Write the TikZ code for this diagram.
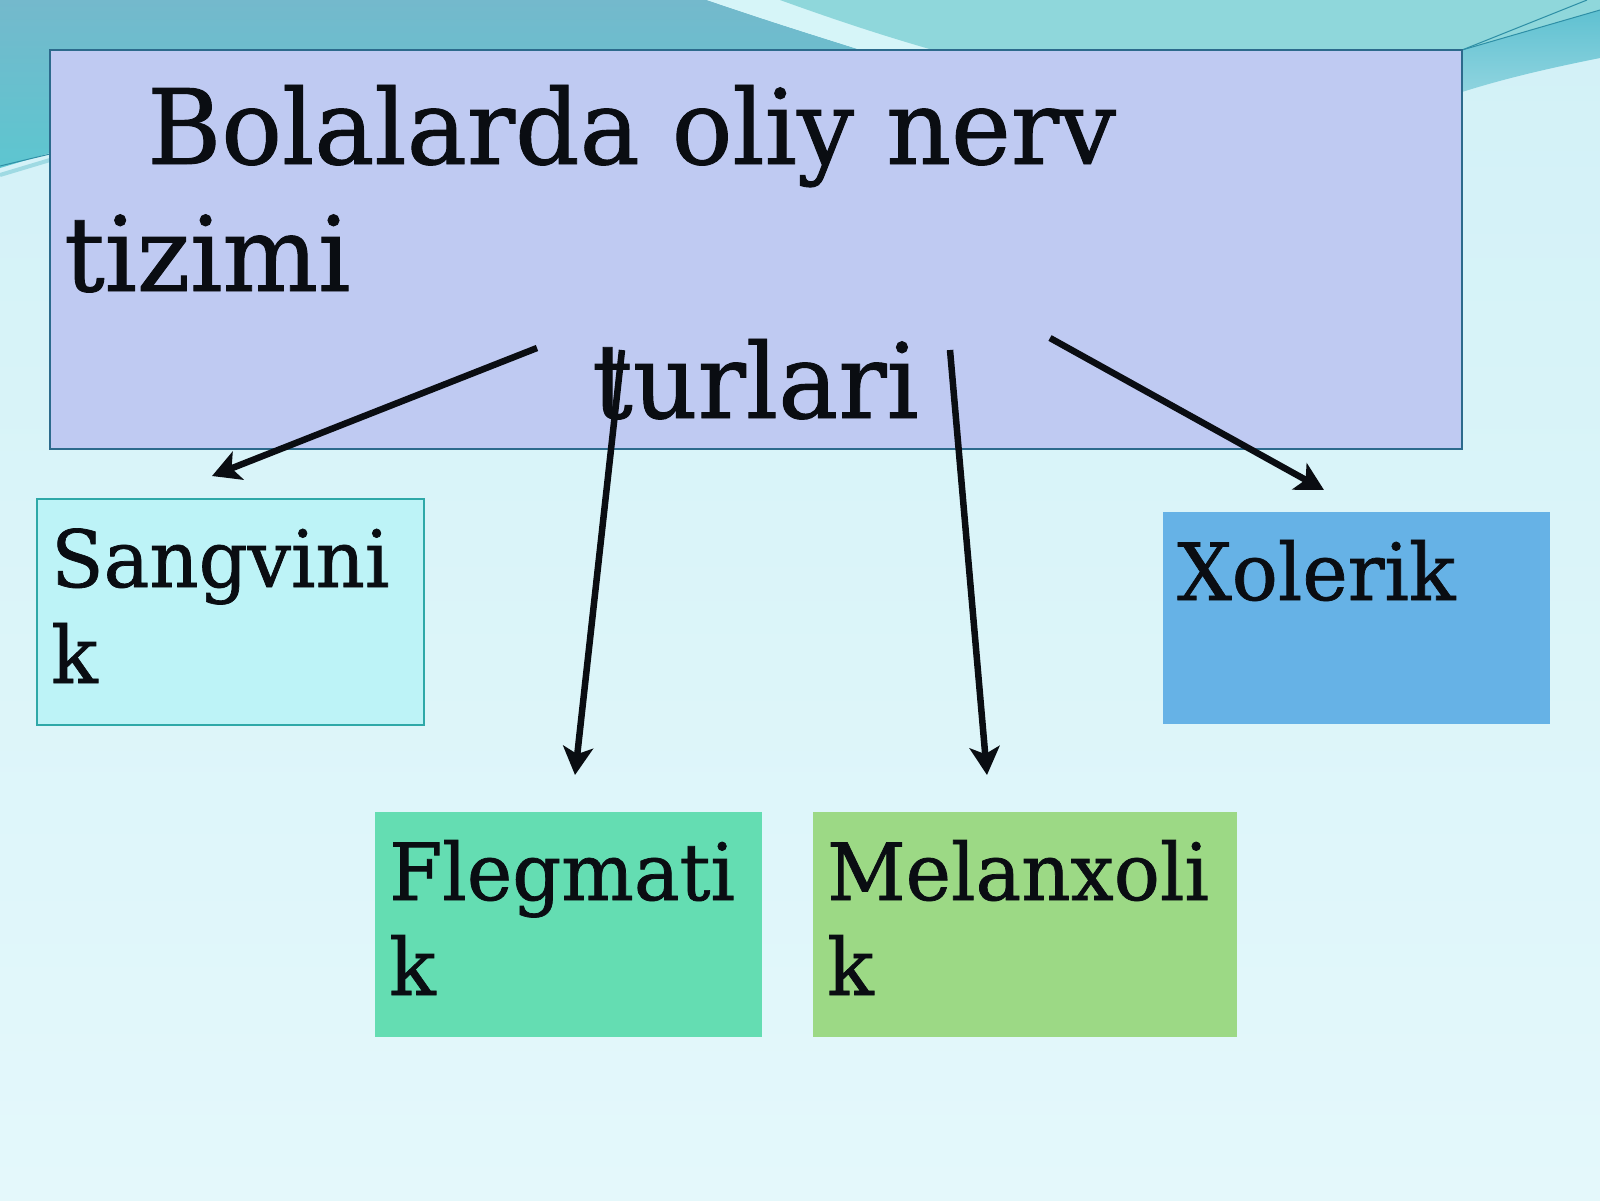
\documentclass[tikz,border=0pt]{standalone}
\usepackage{fontspec}
\setmainfont{DejaVu Serif}[FakeStretch=0.97,FakeBold=0.9]
\usetikzlibrary{arrows.meta}
\definecolor{bgtop}{HTML}{D2F1F7}
\definecolor{bgbot}{HTML}{E4F8FB}
\definecolor{tealA}{HTML}{74B9CC}
\definecolor{tealAlow}{HTML}{5DC6D0}
\definecolor{tealB}{HTML}{8FD7DB}
\definecolor{swoosh}{HTML}{D6F5F8}
\definecolor{tealC}{HTML}{5FC1D1}
\definecolor{tealCline}{HTML}{2E8FA6}
\definecolor{mainfill}{HTML}{BFCAF2}
\definecolor{mainline}{HTML}{2C6A8C}
\definecolor{sangfill}{HTML}{BDF3F7}
\definecolor{sangline}{HTML}{2EA8A8}
\definecolor{xolfill}{HTML}{66B2E6}
\definecolor{flegfill}{HTML}{64DDB2}
\definecolor{melfill}{HTML}{9CD985}
\definecolor{ink}{HTML}{0A0D12}
\begin{document}
\begin{tikzpicture}[x=1pt,y=-1pt,
  box/.style={rectangle,anchor=north west,inner sep=0pt,outer sep=0pt},
  bigtxt/.style={anchor=base west,inner sep=0pt,text=ink,font=\fontsize{104}{127}\selectfont},
  boxtxt/.style={anchor=base west,inner sep=0pt,text=ink,font=\fontsize{79}{95}\selectfont},
  arr/.style={line width=6.5pt,draw=ink,-{Stealth[length=28pt,width=30pt,inset=7pt]}}]
\useasboundingbox (0,0) rectangle (1600,1200);
% background
\shade[top color=bgtop,bottom color=bgbot] (0,0) rectangle (1600,1200);
\shade[top color=tealA,bottom color=tealAlow] (0,0) -- (707,0) .. controls (780,25) and (830,40) .. (867,52) -- (867,160) -- (50,153) -- (0,168) -- cycle;
\fill[swoosh] (707,0) .. controls (780,25) and (830,40) .. (867,52) -- (940,52) .. controls (880,35) and (830,18) .. (780,0) -- cycle;
\fill[tealB] (780,0) .. controls (830,18) and (880,35) .. (940,52) -- (1470,52) -- (1600,10) -- (1600,0) -- cycle;
\shade[top color=tealC,bottom color=tealC!70!white] (1462,50) -- (1600,10) -- (1600,58) .. controls (1540,70) and (1500,80) .. (1462,92) -- cycle;
\draw[tealCline,line width=1pt] (1462,50) -- (1587,0);
\draw[tealCline,line width=1pt] (1462,50) -- (1600,10);
\draw[tealCline,line width=1pt] (0,166) -- (50,154);
\draw[tealC!60!white,line width=4pt] (0,175) -- (50,160);
% boxes
\node[box,fill=mainfill,draw=mainline,line width=1.5pt,minimum width=1412pt,minimum height=399pt] (main) at (50,50) {};
\node[box,fill=sangfill,draw=sangline,line width=1.2pt,minimum width=387pt,minimum height=226pt] (sang) at (37,499) {};
\node[box,fill=xolfill,minimum width=387pt,minimum height=212pt] (xol) at (1163,512) {};
\node[box,fill=flegfill,minimum width=387pt,minimum height=225pt] (fleg) at (375,812) {};
\node[box,fill=melfill,minimum width=424pt,minimum height=225pt] (mel) at (813,812) {};
% texts
\node[bigtxt] (t1) at (147,164) {Bolalarda oliy nerv};
\node[bigtxt] (t2) at (64,291) {tizimi};
\node[bigtxt] (t3) at (592,418) {turlari};
\node[boxtxt] (s1) at (51,587) {Sangvini};
\node[boxtxt] (s2) at (51,683) {k};
\node[boxtxt] (x1) at (1177,600) {Xolerik};
\node[boxtxt] (f1) at (389,900) {Flegmati};
\node[boxtxt] (f2) at (389,995) {k};
\node[boxtxt] (m1) at (827,900) {Melanxoli};
\node[boxtxt] (m2) at (827,995) {k};
% arrows
\coordinate (a1s) at (537,348); \coordinate (a1e) at (212,476);
\coordinate (a2s) at (622,350); \coordinate (a2e) at (575,775);
\coordinate (a3s) at (950,350); \coordinate (a3e) at (987,775);
\coordinate (a4s) at (1050,338); \coordinate (a4e) at (1324,490);
\draw[arr] (a1s) -- (a1e);
\draw[arr] (a2s) -- (a2e);
\draw[arr] (a3s) -- (a3e);
\draw[arr] (a4s) -- (a4e);
\end{tikzpicture}
\end{document}
